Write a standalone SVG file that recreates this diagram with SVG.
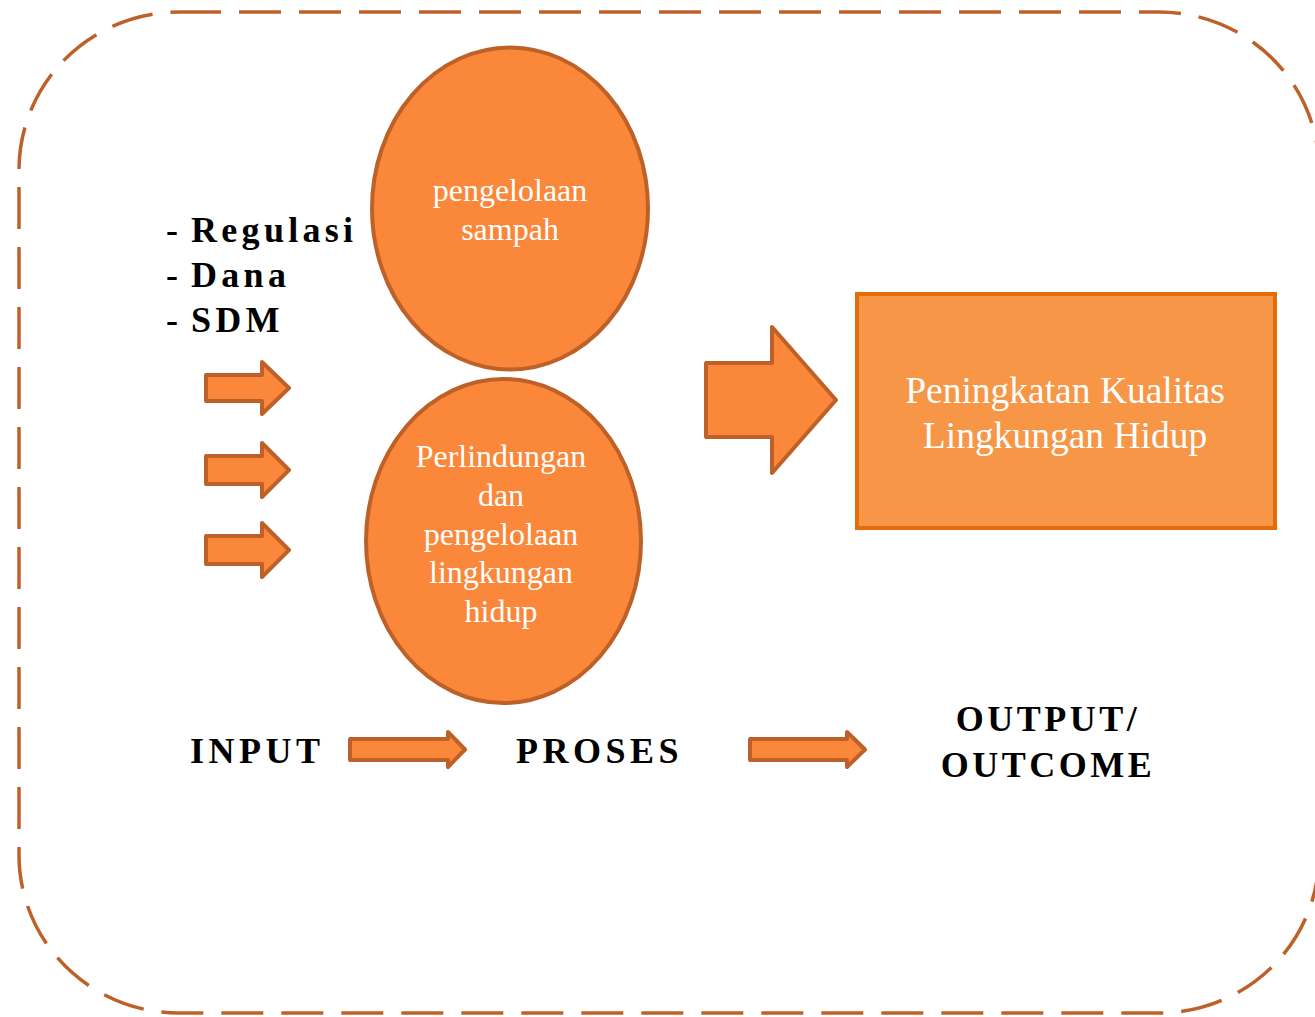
<svg xmlns="http://www.w3.org/2000/svg" width="1315" height="1017" viewBox="0 0 1315 1017">
<style>
.frame{fill:none;stroke:#BE6128;stroke-width:3.5;stroke-dasharray:42 18}
.oval{fill:#FB873A;stroke:#BE6128;stroke-width:4}
.arr{fill:#FB873A;stroke:#BE6128;stroke-width:4;stroke-linejoin:round}
.box{fill:#F79646;stroke:#E46C0A;stroke-width:4}
.wt{font-family:"Liberation Serif",serif;fill:#FFFFFF;text-anchor:middle}
.bt{font-family:"Liberation Serif",serif;font-weight:bold;fill:#000000}
</style>
<rect class="frame" x="19" y="12" width="1300" height="1001" rx="160" ry="158"/>
<g id="node-inputs">
<text class="bt" font-size="36" letter-spacing="4.3"><tspan x="166" y="242">-</tspan><tspan x="191" y="242">Regulasi</tspan><tspan x="166" y="287">-</tspan><tspan x="191" y="287">Dana</tspan><tspan x="166" y="332">-</tspan><tspan x="191" y="332">SDM</tspan></text>
</g>
<g id="node-pengelolaan-sampah">
<ellipse class="oval" cx="510" cy="208.5" rx="138" ry="161"/>
<text class="wt" font-size="32"><tspan x="510" y="201">pengelolaan</tspan><tspan x="510" y="240">sampah</tspan></text>
</g>
<g id="node-perlindungan">
<ellipse class="oval" cx="503.5" cy="541" rx="137.5" ry="162"/>
<text class="wt" font-size="32"><tspan x="501" y="467">Perlindungan</tspan><tspan x="501" y="506">dan</tspan><tspan x="501" y="545">pengelolaan</tspan><tspan x="501" y="583">lingkungan</tspan><tspan x="501" y="622">hidup</tspan></text>
</g>
<g id="node-outcome">
<rect class="box" x="857" y="294" width="418" height="234"/>
<text class="wt" font-size="37.5"><tspan x="1065" y="403">Peningkatan Kualitas</tspan><tspan x="1065" y="448">Lingkungan Hidup</tspan></text>
</g>
<g id="node-labels">
<text class="bt" font-size="36" letter-spacing="4.5" x="190" y="763">INPUT</text>
<text class="bt" font-size="36" letter-spacing="4.5" x="516" y="763">PROSES</text>
<text class="bt" font-size="36" letter-spacing="3.5" text-anchor="middle"><tspan x="1048" y="731">OUTPUT/</tspan><tspan x="1048" y="777">OUTCOME</tspan></text>
</g>
<g id="connectors">
<path class="arr" d="M206 375 H262 V362 L289 388 L262 414 V401 H206 Z"/>
<path class="arr" d="M206 456 H262 V443 L289 470 L262 497 V484 H206 Z"/>
<path class="arr" d="M206 536 H262 V523 L289 550 L262 577 V564 H206 Z"/>
<path class="arr" d="M706 363 H772 V327 L836 400 L772 473 V437 H706 Z"/>
<path class="arr" d="M350 739 H448 V732 L465 749.5 L448 767 V760 H350 Z"/>
<path class="arr" d="M750 739 H847 V732 L865 749.5 L847 767 V760 H750 Z"/>
</g>
</svg>
